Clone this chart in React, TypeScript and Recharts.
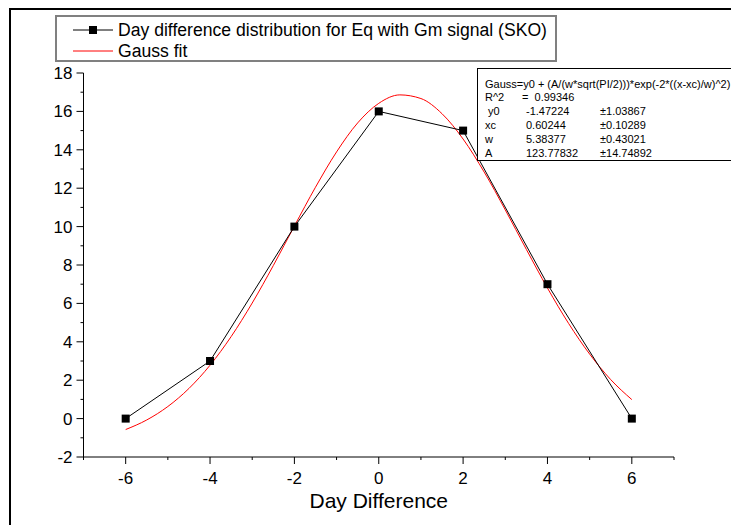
import { LineChart, Line, XAxis, YAxis, Label } from "recharts";

// measured distribution
const dayDiff = [-6, -4, -2, 0, 2, 4, 6];
const counts = [0, 3, 10, 16, 15, 7, 0];

// gauss fit curve, every half day
const fitX = [-6, -5.5, -5, -4.5, -4, -3.5, -3, -2.5, -2, -1.5, -1, -0.5, 0, 0.5, 1, 1.5, 2, 2.5, 3, 3.5, 4, 4.5, 5, 5.5, 6];
const fitY = [-0.57, -0.07, 0.63, 1.57, 2.78, 4.27, 6.02, 7.97, 10.03, 12.05, 13.89, 15.4, 16.42, 16.86, 16.67, 15.88, 14.56, 12.84, 10.87, 8.81, 6.8, 4.96, 3.36, 2.03, 0.99];

const xTicks = [-7, -6, -5, -4, -3, -2, -1, 0, 1, 2, 3, 4, 5, 6, 7];
const yTicks = [-2, -1, 0, 1, 2, 3, 4, 5, 6, 7, 8, 9, 10, 11, 12, 13, 14, 15, 16, 17, 18];

const fitParams = [
    { name: " y0", value: "-1.47224", err: "\u00b11.03867" },
    { name: "xc", value: "0.60244", err: "\u00b10.10289" },
    { name: "w", value: "5.38377", err: "\u00b10.43021" },
    { name: "A", value: "123.77832", err: "\u00b114.74892" },
];

const chartData = fitX.map((x, i) => {
    const k = dayDiff.indexOf(x);
    return { x, fit: fitY[i], count: k >= 0 ? counts[k] : null };
});

const FONT = "'Liberation Sans', Arial, sans-serif";

const XTick = ({ x, y, payload }: any) => {
    const major = payload.value % 2 === 0;
    return (
        <g>
            <line x1={x} x2={x} y1={y} y2={y + (major ? 7 : 3)} stroke="#000" />
            {major && (
                <text x={x} y={y + 27} textAnchor="middle" fontSize={17} fill="#000">
                    {payload.value}
                </text>
            )}
        </g>
    );
};

const YTick = ({ x, y, payload }: any) => {
    const major = payload.value % 2 === 0;
    return (
        <g>
            <line x1={x - (major ? 7 : 3)} x2={x} y1={y} y2={y} stroke="#000" />
            {major && (
                <text x={x - 11} y={y + 6} textAnchor="end" fontSize={17} fill="#000">
                    {payload.value}
                </text>
            )}
        </g>
    );
};

const SquareDot = ({ cx, cy, value }: any) => {
    if (value === null || value === undefined || cx == null || cy == null) return <g />;
    return <rect x={cx - 4} y={cy - 4} width={8} height={8} fill="#000" />;
};

export default function App() {
    return (
        <div
            style={{
                position: "absolute",
                left: 0,
                top: 0,
                width: 731,
                height: 525,
                overflow: "hidden",
                background: "#fff",
                fontFamily: FONT,
            }}
        >
            <div
                style={{
                    position: "absolute",
                    left: 9,
                    top: 8,
                    width: 800,
                    height: 600,
                    borderLeft: "2px solid #000",
                    borderTop: "2px solid #000",
                }}
            />
            <LineChart
                width={731}
                height={525}
                data={chartData}
                margin={{ top: 73, right: 57, bottom: 0, left: 0 }}
                style={{ position: "absolute", left: 0, top: 0, fontFamily: FONT }}
            >
                <XAxis
                    dataKey="x"
                    type="number"
                    domain={[-7, 7]}
                    ticks={xTicks}
                    interval={0}
                    tickSize={0}
                    tickMargin={0}
                    tickLine={false}
                    tick={<XTick />}
                    axisLine={{ stroke: "#000" }}
                    height={68}
                >
                    <Label value="Day Difference" position="insideBottom" offset={17} fontSize={21} fill="#000" />
                </XAxis>
                <YAxis
                    type="number"
                    domain={[-2, 18]}
                    ticks={yTicks}
                    interval={0}
                    tickSize={0}
                    tickMargin={0}
                    tickLine={false}
                    tick={<YTick />}
                    axisLine={{ stroke: "#000" }}
                    width={83.5}
                />
                <Line
                    type="monotone"
                    dataKey="fit"
                    stroke="#ff0000"
                    strokeWidth={1}
                    dot={false}
                    activeDot={false}
                    isAnimationActive={false}
                />
                <Line
                    type="linear"
                    dataKey="count"
                    stroke="#000"
                    strokeWidth={1}
                    connectNulls
                    dot={<SquareDot />}
                    activeDot={false}
                    isAnimationActive={false}
                />
            </LineChart>

            {/* legend */}
            <div
                style={{
                    position: "absolute",
                    left: 55,
                    top: 15,
                    width: 502,
                    height: 47,
                    boxSizing: "border-box",
                    border: "2px solid #808080",
                    background: "#fff",
                    fontSize: 17.6,
                    color: "#000",
                }}
            >
                <svg width={40} height={12} style={{ position: "absolute", left: 16, top: 7 }}>
                    <line x1={0} x2={40} y1={6} y2={6} stroke="#000" />
                    <rect x={16} y={2} width={8} height={8} fill="#000" />
                </svg>
                <div style={{ position: "absolute", left: 61, top: 3, whiteSpace: "nowrap" }}>
                    Day difference distribution for Eq with Gm signal (SKO)
                </div>
                <svg width={40} height={12} style={{ position: "absolute", left: 16, top: 28 }}>
                    <line x1={0} x2={40} y1={6} y2={6} stroke="#ff0000" />
                </svg>
                <div style={{ position: "absolute", left: 61, top: 24, whiteSpace: "nowrap" }}>Gauss fit</div>
            </div>

            {/* fit parameters */}
            <div
                style={{
                    position: "absolute",
                    left: 477,
                    top: 68,
                    width: 270,
                    height: 93,
                    boxSizing: "border-box",
                    border: "1px solid #000",
                    background: "#fff",
                    fontSize: 11,
                    lineHeight: "14px",
                    color: "#000",
                }}
            >
                <div style={{ position: "absolute", left: 7, top: 8, whiteSpace: "nowrap" }}>
                    Gauss=y0 + (A/(w*sqrt(PI/2)))*exp(-2*((x-xc)/w)^2)
                </div>
                <div style={{ position: "absolute", left: 7, top: 21 }}>R^2</div>
                <div style={{ position: "absolute", left: 44, top: 21, whiteSpace: "pre" }}>=  0.99346</div>
                {fitParams.map((p, i) => (
                    <div key={p.name} style={{ position: "absolute", top: 35 + i * 14, left: 0, width: 270 }}>
                        <span style={{ position: "absolute", left: 7, whiteSpace: "pre" }}>{p.name}</span>
                        <span style={{ position: "absolute", left: 48 }}>{p.value}</span>
                        <span style={{ position: "absolute", left: 122 }}>{p.err}</span>
                    </div>
                ))}
            </div>
        </div>
    );
}
